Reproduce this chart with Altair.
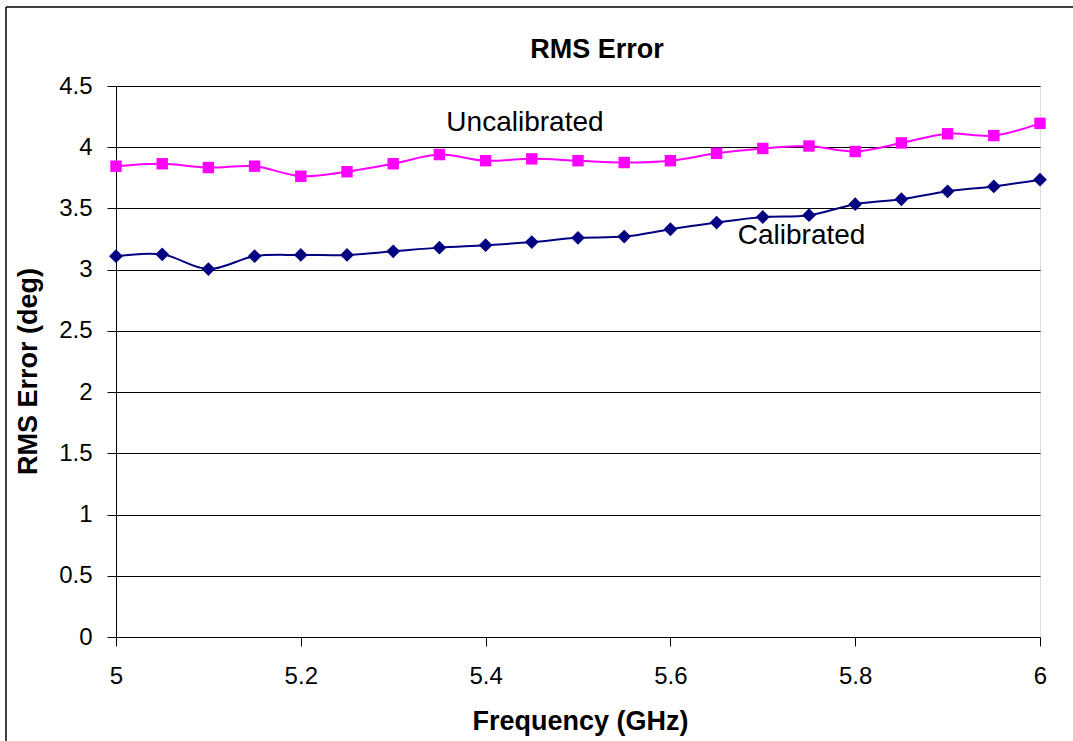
import altair as alt
import pandas as pd

freq = [5.0, 5.05, 5.1, 5.15, 5.2, 5.25, 5.3, 5.35, 5.4, 5.45, 5.5,
        5.55, 5.6, 5.65, 5.7, 5.75, 5.8, 5.85, 5.9, 5.95, 6.0]
uncalibrated = [3.845, 3.865, 3.834, 3.845, 3.763, 3.80, 3.865, 3.94, 3.89, 3.905, 3.89,
                3.875, 3.89, 3.95, 3.99, 4.01, 3.965, 4.035, 4.11, 4.095, 4.195]
calibrated = [3.11, 3.125, 3.005, 3.11, 3.12, 3.12, 3.15, 3.18, 3.20, 3.225, 3.26,
              3.27, 3.33, 3.385, 3.43, 3.445, 3.535, 3.575, 3.64, 3.68, 3.735]

label_text = ["Uncalibrated", "Calibrated"]
label_x = [5.4426, 5.742]
label_y = [4.136, 3.212]

chart_title = ["RMS Error"]

x_ticks = [5.0, 5.2, 5.4, 5.6, 5.8, 6.0]
y_ticks = [0, 0.5, 1, 1.5, 2, 2.5, 3, 3.5, 4, 4.5]

FONT = "Liberation Sans"

df_u = pd.DataFrame({"f": freq, "v": uncalibrated})
df_c = pd.DataFrame({"f": freq, "v": calibrated})
df_l = pd.DataFrame({"t": label_text, "f": label_x, "v": label_y})
df_t = pd.DataFrame({"t": chart_title})

xs = alt.Scale(domain=[5, 6], nice=False, zero=False)
ys = alt.Scale(domain=[0, 4.5], nice=False)

xaxis = alt.Axis(values=x_ticks, format="~g", title="Frequency (GHz)",
                 grid=False, tickSize=9, tickColor="#000", domainColor="#000",
                 labelFontSize=24, labelPadding=18, labelColor="#000", labelFlush=False,
                 titleFontSize=27, titleFontWeight="bold", titleColor="#000",
                 titleX=464, titleY=92, titleBaseline="alphabetic", titleFont=FONT, labelFont=FONT)
yaxis = alt.Axis(values=y_ticks, format="~g", title="RMS Error (deg)",
                 grid=True, gridColor="#000", gridWidth=1, tickSize=9, tickColor="#000",
                 domainColor="#000", labelFontSize=24, labelPadding=15, labelColor="#000",
                 labelFlush=False,
                 titleFontSize=27, titleFontWeight="bold", titleColor="#000", titleAngle=-90,
                 titleX=-80, titleY=285, titleBaseline="alphabetic", titleAlign="center",
                 titleFont=FONT, labelFont=FONT)

base_u = alt.Chart(df_u).encode(x=alt.X("f:Q", scale=xs, axis=xaxis),
                                y=alt.Y("v:Q", scale=ys, axis=yaxis))
line_u = base_u.mark_line(color="#FF00FF", strokeWidth=2, interpolate="catmull-rom")
pts_u = base_u.mark_point(shape="square", filled=True, color="#FF00FF", size=130, opacity=1)

base_c = alt.Chart(df_c).encode(x=alt.X("f:Q", scale=xs), y=alt.Y("v:Q", scale=ys))
line_c = base_c.mark_line(color="#000080", strokeWidth=2, interpolate="catmull-rom")
pts_c = base_c.mark_point(shape="diamond", filled=True, color="#000080", size=190, opacity=1)

labels = alt.Chart(df_l).mark_text(font=FONT, fontSize=28, color="#000", align="center",
                                   baseline="alphabetic").encode(
    x=alt.X("f:Q", scale=xs), y=alt.Y("v:Q", scale=ys), text="t:N")

title_mark = alt.Chart(df_t).mark_text(font=FONT, fontSize=27, fontWeight="bold", color="#000",
                                       align="center", baseline="alphabetic").encode(
    x=alt.value(481), y=alt.value(-28), text="t:N")

frame_v = alt.Chart(df_t).mark_rule(color="#000", strokeWidth=1.5).encode(
    x=alt.value(-110), y=alt.value(-79), y2=alt.value(700))
frame_h = alt.Chart(df_t).mark_rule(color="#000", strokeWidth=1.5).encode(
    x=alt.value(-110), x2=alt.value(1000), y=alt.value(-79))

chart = alt.layer(line_u, line_c, pts_u, pts_c, labels, title_mark, frame_v, frame_h).properties(
    width=924, height=551,
    autosize=alt.AutoSizeParams(type="none"),
    padding={"left": 116, "top": 86, "right": 33, "bottom": 104},
).configure_view(stroke="#000", strokeWidth=1).configure(background="white")

chart.save("out.html", embed_options={"renderer": "svg", "actions": False})
